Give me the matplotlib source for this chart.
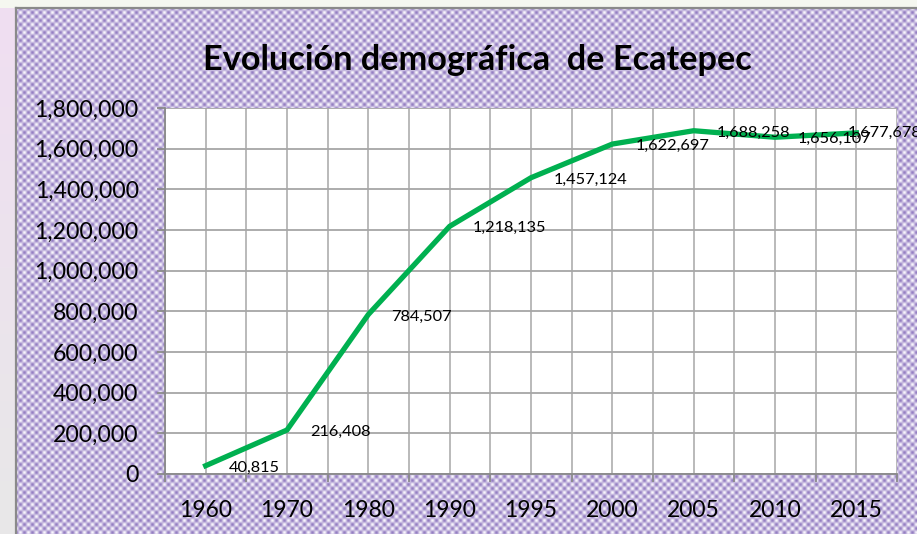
import numpy as np
import matplotlib
matplotlib.use('Agg')
import matplotlib.pyplot as plt
from matplotlib.lines import Line2D
from matplotlib.ticker import FuncFormatter, FixedLocator

# ---- data ----
years = ['1960', '1970', '1980', '1990', '1995', '2000', '2005', '2010', '2015']
population = [40815, 216408, 784507, 1218135, 1457124, 1622697, 1688258, 1656107, 1677678]
y_ticks = [0, 200000, 400000, 600000, 800000, 1000000, 1200000, 1400000, 1600000, 1800000]
title = 'Evolución demográfica  de Ecatepec'

W, H = 917, 534
fig = plt.figure(figsize=(W / 100, H / 100), dpi=100)
fig.patch.set_facecolor('#f2eaf2')

# ---- patterned background (decorative) ----
P = 8.0
yy, xx = np.mgrid[0:H, 0:W]
t = 0.5 + 0.5 * np.cos(2 * np.pi * xx / P) * np.cos(2 * np.pi * yy / P)
purple = np.array([148, 126, 194]) / 255.0
white = np.array([248, 245, 252]) / 255.0
img = purple[None, None, :] + (white - purple)[None, None, :] * t[:, :, None]
top_col = np.array([245, 247, 240]) / 255.0
frac = (yy[:, :15] / H)[:, :, None]
left_top = np.array([240, 222, 242]) / 255.0
left_bot = np.array([232, 232, 232]) / 255.0
img[:, :15, :] = left_top + (left_bot - left_top) * frac
img[:8, :, :] = top_col
fig.figimage(img, xo=0, yo=0, origin='upper', zorder=-10)

# frame border
fig.add_artist(Line2D([15.5 / W, 15.5 / W], [0, 1 - 8 / H], transform=fig.transFigure,
                      color='#8a8a8a', lw=1.6, zorder=-5))
fig.add_artist(Line2D([15.5 / W, 1], [1 - 8 / H, 1 - 8 / H], transform=fig.transFigure,
                      color='#8a8a8a', lw=1.6, zorder=-5))

# ---- axes ----
left, right, top, bottom = 165, 897, 108, 474
ax = fig.add_axes([left / W, (H - bottom) / H, (right - left) / W, (bottom - top) / H])
ax.set_zorder(1)
ax.set_facecolor('white')

x = np.arange(len(years))
ax.plot(x, population, color='#00b050', lw=3.8, solid_joinstyle='miter', zorder=3)

ax.set_xlim(-0.5, len(years) - 0.5)
ax.set_ylim(0, 1800000)

ax.xaxis.set_major_locator(FixedLocator(x))
ax.set_xticklabels(years)
ax.xaxis.set_minor_locator(FixedLocator(np.arange(len(years) + 1) - 0.5))
ax.set_yticks(y_ticks)
ax.yaxis.set_major_formatter(FuncFormatter(lambda v, p: f'{v:,.0f}'))

ax.grid(True, which='both', axis='x', color='#b4b4b4', lw=1.3)
ax.grid(True, which='major', axis='y', color='#a6a6a6', lw=1.3)
ax.set_axisbelow(True)

ax.tick_params(axis='x', which='major', length=0, pad=19, labelsize=16.5, labelcolor='black')
ax.tick_params(axis='x', which='minor', length=6, width=1.3, color='#8a8a8a', direction='out')
ax.tick_params(axis='y', which='major', length=6, width=1.3, color='#8a8a8a', pad=13,
               labelsize=16.6, labelcolor='black')
for lab in ax.get_xticklabels() + ax.get_yticklabels():
    lab.set_family('Lato')

for s in ['top', 'right']:
    ax.spines[s].set_visible(False)
for s in ['left', 'bottom']:
    ax.spines[s].set_color('#8a8a8a')
    ax.spines[s].set_linewidth(1.3)

# ---- data labels ----
for i, v in enumerate(population):
    if i == len(population) - 1:
        off = (-9, 0)
    else:
        off = (23, -2)
    ax.annotate(f'{v:,}', (x[i], v), xytext=off, textcoords='offset pixels',
                ha='left', va='center', fontsize=11.8, family='Lato', color='black',
                annotation_clip=False, zorder=4)

# ---- title (fit to target width) ----
tt = fig.text(477.5 / W, 1 - 60 / H, title, ha='center', va='center',
              fontsize=22, fontweight='bold', family='Lato', color='black')
fig.canvas.draw()
w = tt.get_window_extent().width
tt.set_fontsize(22 * 549.0 / w)

fig.savefig('out.png', dpi=100)
